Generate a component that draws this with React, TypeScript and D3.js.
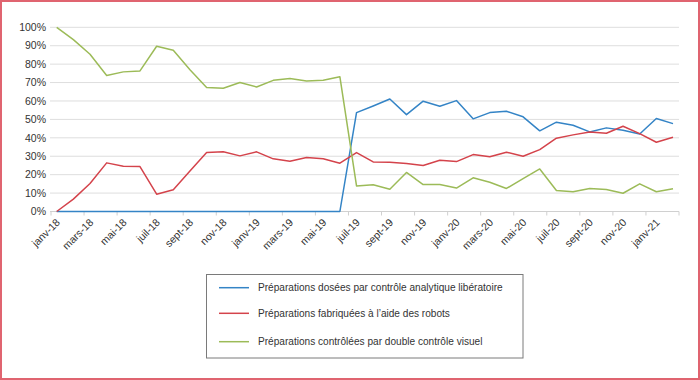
import React from "react";
import * as d3 from "d3";

const months = [
  "janv-18","févr-18","mars-18","avr-18","mai-18","juin-18","juil-18","août-18","sept-18","oct-18","nov-18","déc-18",
  "janv-19","févr-19","mars-19","avr-19","mai-19","juin-19","juil-19","août-19","sept-19","oct-19","nov-19","déc-19",
  "janv-20","févr-20","mars-20","avr-20","mai-20","juin-20","juil-20","août-20","sept-20","oct-20","nov-20","déc-20",
  "janv-21","févr-21",
];

const blueValues = [
  0,0,0,0,0,0,0,0,0,0,0,0,0,0,0,0,0,0,
  53.7,57.3,61.1,52.6,59.9,57.1,60.2,50.3,53.7,54.4,51.4,43.8,48.5,46.8,43.2,45.4,44.1,42.1,50.5,47.7,
];
const redValues = [
  0,6.7,15.2,26.4,24.6,24.4,9.4,11.8,22,32,32.4,30.2,32.4,28.6,27.3,29.3,28.6,26.2,
  32,26.9,26.8,26,25,27.8,27.1,30.9,29.7,32.2,30,33.6,39.8,41.6,43.2,42.5,46.3,42.3,37.6,40.3,
];
const greenValues = [
  100,93.3,85.4,73.8,75.8,76.3,89.7,87.5,77,67.3,66.9,70,67.6,71.2,72.2,70.9,71.2,73.2,
  13.9,14.5,12.1,21.2,14.6,14.6,12.7,18.3,15.9,12.5,17.9,23.1,11.4,10.7,12.5,11.9,9.9,15,10.7,12.3,
];

const yTicks = [0,10,20,30,40,50,60,70,80,90,100];

const seriesNames = [
  "Préparations dosées par contrôle analytique libératoire",
  "Préparations fabriquées à l’aide des robots",
  "Préparations contrôlées par double contrôle visuel",
];
const seriesColors = ["#3484c6", "#d4434b", "#9cbb58"];

export default function App() {
  const W = 700, H = 380;
  const axisLeft = 51, axisRight = 679;
  const x = d3.scalePoint<string>().domain(months).range([56.7, 673]);
  const y = d3.scaleLinear().domain([0, 100]).range([211.5, 27.3]);
  const line = d3.line<number>()
    .x((_, i) => x(months[i]) as number)
    .y((d) => y(d));
  const allSeries = [blueValues, redValues, greenValues];
  const font = "'Liberation Sans', Arial, Helvetica, sans-serif";
  const tickCount = months.length / 2;
  const tickScale = d3.scaleLinear().domain([0, tickCount]).range([axisLeft, axisRight]);
  const legendY = [287.7, 313.3, 341.7];

  return (
    <svg width={W} height={H} style={{ position: "absolute", left: 0, top: 0, background: "#fff" }} fontFamily={font}>
      <rect x={0} y={0} width={W} height={H} fill="#fff" />
      {yTicks.map((t) => (
        <g key={t}>
          <line x1={50} x2={axisRight} y1={y(t)} y2={y(t)} stroke={t === 0 ? "#d0d0d0" : "#dedede"} strokeWidth={1} />
          <text x={46} y={y(t) + 3.7} textAnchor="end" fontSize={10.5} fill="#333">{t}%</text>
        </g>
      ))}
      {d3.range(tickCount + 1).map((k) => (
        <line key={k} x1={tickScale(k)} x2={tickScale(k)} y1={211.5} y2={215.5} stroke="#d0d0d0" strokeWidth={1} />
      ))}
      {months.map((m, i) => i % 2 === 0 ? (
        <text key={m} transform={`translate(${(x(m) as number) + 4},${223}) rotate(-45)`} textAnchor="end" fontSize={10.5} fill="#333">{m}</text>
      ) : null)}
      {allSeries.map((s, si) => (
        <path key={si} d={line(s) || ""} fill="none" stroke={seriesColors[si]} strokeWidth={1.5} strokeLinejoin="round" />
      ))}
      <rect x={206.5} y={274.5} width={316.5} height={83.5} fill="#fff" stroke="#7a7a7a" strokeWidth={1} />
      {seriesNames.map((n, i) => (
        <g key={n}>
          <line x1={219} x2={249} y1={legendY[i]} y2={legendY[i]} stroke={seriesColors[i]} strokeWidth={1.5} />
          <text x={258} y={legendY[i] + 3.6} fontSize={10.1} fill="#333">{n}</text>
        </g>
      ))}
      <rect x={1} y={1} width={W - 2} height={H - 2} fill="none" stroke="#e06470" strokeWidth={2} />
    </svg>
  );
}
